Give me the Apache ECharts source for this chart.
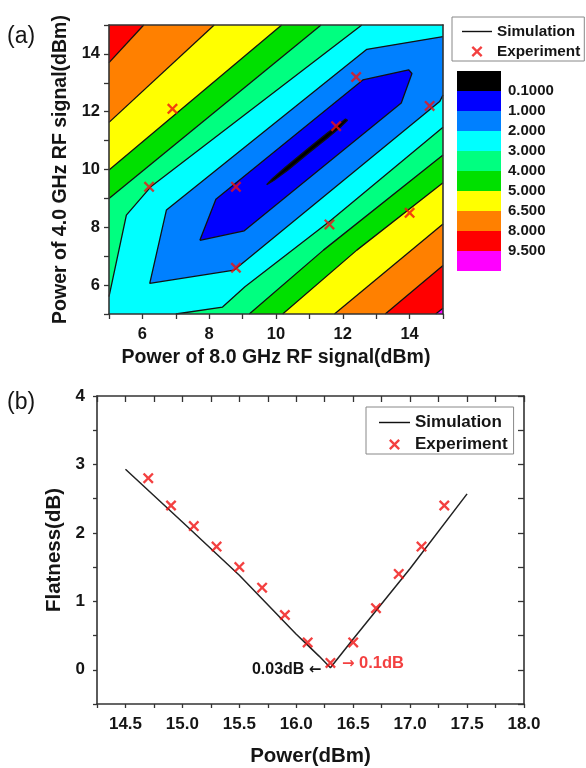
<!DOCTYPE html>
<html><head><meta charset="utf-8">
<script src="https://cdn.jsdelivr.net/npm/echarts@6/dist/echarts.min.js"></script>
<style>html,body{margin:0;padding:0;background:#fff;}#c{width:586px;height:768px;}</style>
</head><body><div id="c"></div>
<script>
// ---------- Panel (a): contour map ----------
const levelLabels = ['0.1000','1.000','2.000','3.000','4.000','5.000','6.500','8.000','9.500'];
const bandColors = ['#000000','#0000FF','#0080FF','#00FFFF','#00FF80','#00E000','#FFFF00','#FF8000','#FF0000','#FF00FF'];

// contour lines, data coordinates [x(8 GHz power), y(4 GHz power)]
const c95Lower = [[14.78,5],[15,5.2]];
const c8Upper  = [[5,13.7],[6.04,15]];
const c8Lower  = [[13.27,5],[15,6.68]];
const c65Upper = [[5,11.63],[8.15,15]];
const c65Lower = [[11.75,5],[15,8.11]];
const c5Upper  = [[5,9.98],[10.17,15]];
const c5Lower  = [[10.2,5],[12.42,7.21],[15,9.54]];
const c4Upper  = [[5,9.0],[11.35,15]];
const c4Lower  = [[9.2,5],[11.42,7.21],[15,10.5]];
const c3Upper  = [[5,5.6],[5.52,8.42],[6.25,9.4],[12.57,15]];
const c3Lower  = [[7.0,5],[8.4,5.24],[9.07,5.94],[11.6,8.2],[15,11.46]];
const c2       = [[15,14.6],[12.72,14.16],[6.72,8.6],[6.22,6.06],[8.75,6.52],[14.9,12.35],[15,12.58]];
const c1       = [[7.72,7.55],[8.2,8.97],[12.6,13.1],[13.97,13.45],[14.07,13.32],[13.75,12.3],[9.05,7.88]];
const c01      = [[9.72,9.47],[9.89,9.68],[10.28,10.08],[10.88,10.65],[11.48,11.21],[11.9,11.58],[12.08,11.75],[12.14,11.7],[11.96,11.5],[11.56,11.11],[10.96,10.55],[10.36,9.98],[9.93,9.62]];

const expAx = [6.2, 6.9, 8.8, 8.8, 11.6, 11.8, 12.4, 14.0, 14.6];
const expAy = [9.4, 12.1, 9.4, 6.6, 8.1, 11.5, 13.2, 8.5, 12.2];

// ---------- Panel (b): flatness vs power ----------
const simPower = [14.5, 15.0, 15.5, 16.0, 16.1, 16.2, 16.3, 16.5, 17.0, 17.5];
const simFlat  = [2.93, 2.16, 1.38, 0.52, 0.36, 0.2, 0.03, 0.45, 1.48, 2.57];
const expPower = [14.7, 14.9, 15.1, 15.3, 15.5, 15.7, 15.9, 16.1, 16.3, 16.5, 16.7, 16.9, 17.1, 17.3];
const expFlat  = [2.8, 2.4, 2.1, 1.8, 1.5, 1.2, 0.8, 0.4, 0.1, 0.4, 0.9, 1.4, 1.8, 2.4];

// ---------- helpers ----------
const FONT = "'Liberation Sans', Arial, sans-serif";
const TXT = '#151515';
const XMARK = 'path://M0,1.5L1.5,0L5,3.5L8.5,0L10,1.5L6.5,5L10,8.5L8.5,10L5,6.5L1.5,10L0,8.5L3.5,5Z';
const LINEICON = 'path://M0,0H30V1.4H0Z';
const LO = 0, HI = 20; // far outside the plot, clipped away
function region(upper, lower) {
  const pts = [];
  if (upper) pts.push(...upper); else pts.push([LO, HI]);
  pts.push([HI, HI]);
  pts.push(...lower.slice().reverse());
  pts.push([LO, LO]);
  return pts;
}
const closed = a => a.concat([a[0]]);
const fills = [
  { poly: [[LO,LO],[LO,HI],[HI,HI],[HI,LO]], color: bandColors[9] },
  { poly: region(null, c95Lower), color: bandColors[8] },
  { poly: region(c8Upper, c8Lower), color: bandColors[7] },
  { poly: region(c65Upper, c65Lower), color: bandColors[6] },
  { poly: region(c5Upper, c5Lower), color: bandColors[5] },
  { poly: region(c4Upper, c4Lower), color: bandColors[4] },
  { poly: region(c3Upper, c3Lower), color: bandColors[3] },
  { poly: c2, color: bandColors[2] },
  { poly: c1, color: bandColors[1] },
  { poly: c01, color: bandColors[0] }
];
const contourLines = [c95Lower, c8Upper, c8Lower, c65Upper, c65Lower, c5Upper, c5Lower,
  c4Upper, c4Lower, c3Upper, c3Lower, c2, closed(c1), closed(c01)];

const isMult = (v, s) => Math.abs(v / s - Math.round(v / s)) < 1e-6;

const chart = echarts.init(document.getElementById('c'), null, { renderer: 'canvas' });

const series = [];
series.push({
  type: 'custom', xAxisIndex: 0, yAxisIndex: 0, clip: true, silent: true, z: 1,
  data: fills.map((f, i) => [i]),
  renderItem: function (params, api) {
    const f = fills[params.dataIndex];
    return { type: 'polygon', shape: { points: f.poly.map(p => api.coord(p)) }, style: { fill: f.color } };
  }
});
contourLines.forEach((ln, i) => {
  series.push({
    name: i === 0 ? 'Simulation' : undefined,
    type: 'line', xAxisIndex: 0, yAxisIndex: 0, data: ln, symbol: 'none', clip: true, silent: true, z: 3,
    lineStyle: { color: '#111', width: 1.3 }, itemStyle: { color: '#111' }
  });
});
series.push({
  name: 'Experiment', type: 'scatter', xAxisIndex: 0, yAxisIndex: 0, z: 5,
  data: expAx.map((x, i) => [x, expAy[i]]), symbol: XMARK, symbolSize: 11,
  itemStyle: { color: '#F01010' }
});
// panel (b)
series.push({
  name: 'Simulation', type: 'line', xAxisIndex: 1, yAxisIndex: 1, z: 3,
  data: simPower.map((x, i) => [x, simFlat[i]]), symbol: 'none',
  lineStyle: { color: '#222', width: 1.5 }, itemStyle: { color: '#222' },
  markPoint: {
    symbol: 'circle', symbolSize: 0, silent: true,
    data: [{ coord: [simPower[6], simFlat[6]], value: 0 }],
    label: { show: true, position: 'left', distance: 9, formatter: '0.03dB {ar|←}', color: TXT,
      fontFamily: FONT, fontWeight: 'bold', fontSize: 16, offset: [0, 2],
      rich: { ar: { fontFamily: 'DejaVu Sans', fontSize: 15, color: TXT } } }
  }
});
series.push({
  name: 'Experiment', type: 'scatter', xAxisIndex: 1, yAxisIndex: 1, z: 5,
  data: expPower.map((x, i) => {
    const o = { value: [x, expFlat[i]] };
    if (i === 8) o.label = { show: true, position: 'right', distance: 6, formatter: '{ar|→} 0.1dB',
      color: '#F01010', fontFamily: FONT, fontWeight: 'bold', fontSize: 16.5, offset: [0, 1],
      rich: { ar: { fontFamily: 'DejaVu Sans', fontSize: 15, color: '#F01010' } } };
    return o;
  }),
  symbol: XMARK, symbolSize: 11, itemStyle: { color: '#F01010' }
});
// colour scale blocks
bandColors.forEach((c, i) => {
  series.push({
    type: 'bar', xAxisIndex: 3, yAxisIndex: 3, stack: 'scale', data: [1], barWidth: '100%',
    itemStyle: { color: c }, silent: true
  });
});

const axLine = { show: true, onZero: false, lineStyle: { color: '#333', width: 1.6 } };
const lblStyle = (sz) => ({ fontFamily: FONT, fontWeight: 'bold', fontSize: sz, color: TXT });

chart.setOption({
  animation: false,
  backgroundColor: '#fff',
  textStyle: { fontFamily: FONT },
  title: [
    { text: '(a)', left: 7, top: 25, padding: 0, textStyle: { fontFamily: FONT, fontWeight: 'normal', fontSize: 23, color: TXT } },
    { text: '(b)', left: 7, top: 391, padding: 0, textStyle: { fontFamily: FONT, fontWeight: 'normal', fontSize: 23, color: TXT } }
  ],
  legend: [
    {
      data: [{ name: 'Simulation', icon: LINEICON }, { name: 'Experiment' }], orient: 'vertical', selectedMode: false,
      left: 452, top: 17, padding: [7, 4, 2, 10], itemWidth: 30, itemHeight: 11, itemGap: 5,
      borderColor: '#888', borderWidth: 1, borderRadius: 0,
      textStyle: lblStyle(15.3)
    },
    {
      data: [{ name: 'Simulation', icon: LINEICON }, { name: 'Experiment' }], orient: 'vertical', selectedMode: false,
      left: 366, top: 407, padding: [7, 6, 1, 13], itemWidth: 31, itemHeight: 11, itemGap: 5,
      borderColor: '#888', borderWidth: 1, borderRadius: 0,
      textStyle: lblStyle(17)
    }
  ],
  grid: [
    { left: 109, top: 25, width: 334, height: 289 },
    { left: 97, top: 396, width: 427, height: 312 },
    { left: 457, top: 71, width: 44, height: 200 }
  ],
  xAxis: [
    { gridIndex: 0, type: 'value', min: 5, max: 15, interval: 1, z: 10,
      axisLine: axLine, axisTick: { show: true, inside: false, length: 5, lineStyle: { color: '#333', width: 1.3 } },
      splitLine: { show: false },
      axisLabel: { margin: 12, ...lblStyle(16.5), formatter: v => (v % 2 === 0 && v > 5 && v < 15) ? String(v) : '' },
      name: 'Power of 8.0 GHz RF signal(dBm)', nameLocation: 'middle', nameGap: 34,
      nameTextStyle: lblStyle(19.5) },
    { gridIndex: 1, type: 'value', min: 14.25, max: 18, interval: 0.25, z: 10,
      axisLine: axLine, axisTick: { show: true, inside: false, length: 4, lineStyle: { color: '#333', width: 1.3 } },
      splitLine: { show: false },
      axisLabel: { margin: 12, ...lblStyle(17), showMinLabel: true, showMaxLabel: true,
        formatter: v => isMult(v, 0.5) ? v.toFixed(1) : '' },
      name: 'Power(dBm)', nameLocation: 'middle', nameGap: 42, nameTextStyle: lblStyle(20.5) },
    { gridIndex: 1, type: 'value', position: 'top', min: 14.25, max: 18, interval: 0.25, z: 10,
      axisLine: axLine, axisTick: { show: true, inside: true, length: 6, lineStyle: { color: '#333', width: 1.3 } },
      splitLine: { show: false }, axisLabel: { show: false } },
    { gridIndex: 2, type: 'category', data: [''], show: false },
    { gridIndex: 0, type: 'value', position: 'top', min: 5, max: 15, z: 10,
      axisLine: axLine, axisTick: { show: false }, splitLine: { show: false }, axisLabel: { show: false } }
  ],
  yAxis: [
    { gridIndex: 0, type: 'value', min: 5, max: 15, interval: 1, z: 10,
      axisLine: axLine, axisTick: { show: true, inside: false, length: 5, lineStyle: { color: '#333', width: 1.3 } },
      splitLine: { show: false },
      axisLabel: { margin: 9, ...lblStyle(16.5), formatter: v => (v % 2 === 0 && v > 5 && v < 15) ? String(v) : '' },
      name: 'Power of 4.0 GHz RF signal(dBm)', nameLocation: 'middle', nameRotate: 90, nameGap: 28,
      nameTextStyle: lblStyle(19.5) },
    { gridIndex: 1, type: 'value', min: -0.5, max: 4, interval: 0.5, z: 10,
      axisLine: axLine, axisTick: { show: true, inside: false, length: 4, lineStyle: { color: '#333', width: 1.3 } },
      splitLine: { show: false },
      axisLabel: { margin: 12, ...lblStyle(17), showMaxLabel: true,
        formatter: v => isMult(v, 1) ? String(Math.round(v)) : '' },
      name: 'Flatness(dB)', nameLocation: 'middle', nameRotate: 90, nameGap: 22, nameTextStyle: lblStyle(20.5) },
    { gridIndex: 1, type: 'value', position: 'right', min: -0.5, max: 4, interval: 0.5, z: 10,
      axisLine: axLine, axisTick: { show: true, inside: true, length: 6, lineStyle: { color: '#333', width: 1.3 } },
      splitLine: { show: false }, axisLabel: { show: false } },
    { gridIndex: 2, type: 'value', min: 0, max: 10, interval: 1, inverse: true, position: 'right',
      axisLine: { show: false }, axisTick: { show: false }, splitLine: { show: false },
      axisLabel: { margin: 7, ...lblStyle(15), formatter: v => (v >= 1 && v <= 9) ? levelLabels[v - 1] : '' } },
    { gridIndex: 0, type: 'value', position: 'right', min: 5, max: 15, z: 10,
      axisLine: axLine, axisTick: { show: false }, splitLine: { show: false }, axisLabel: { show: false } }
  ],
  series: series
});
</script></body></html>
